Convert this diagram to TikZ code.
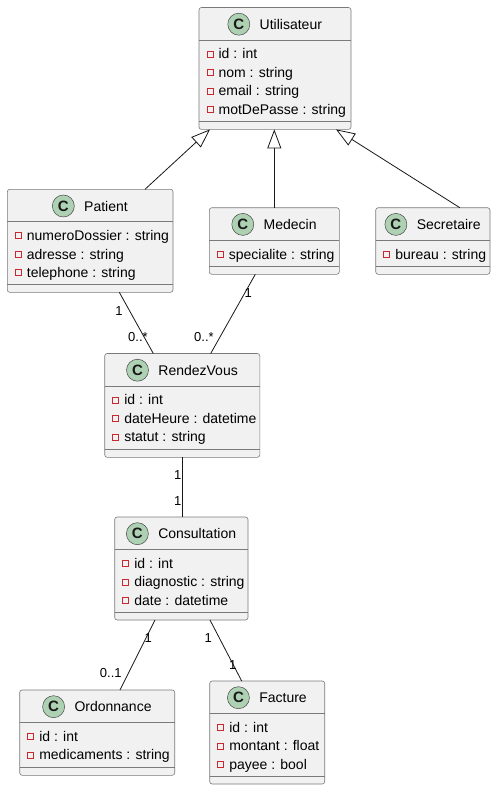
\documentclass[tikz,border=0pt]{standalone}
\usepackage{fontspec}
\setmainfont{Liberation Sans}
\usetikzlibrary{arrows.meta}

\definecolor{boxfill}{HTML}{F1F1F1}
\definecolor{ink}{HTML}{181818}
\definecolor{frame}{HTML}{7A7A7A}
\definecolor{spotfill}{HTML}{ADD1B2}
\definecolor{privred}{HTML}{C82930}

\tikzset{
  classbox/.style={rectangle, draw=frame, fill=boxfill, line width=0.6pt,
    rounded corners=2.5pt, inner sep=0pt, outer sep=0pt},
  sepline/.style={draw=frame, line width=0.6pt},
  titletext/.style={inner sep=0pt, font=\fontsize{14}{16}\selectfont, anchor=base},
  spot/.style={circle, draw=ink!80, line width=0.5pt, fill=spotfill, minimum size=22pt,
    inner sep=0pt, font=\fontsize{15}{16}\selectfont\bfseries, text=ink},
  rowtext/.style={inner sep=0pt, font=\fontsize{14}{16}\selectfont, anchor=base west},
  visib/.style={draw=privred, line width=0.7pt},
  assoc/.style={draw=ink, line width=0.8pt},
  inherit/.style={draw=ink, line width=0.8pt, -{Triangle[open, length=19pt, width=14pt]}},
  mult/.style={inner sep=0pt, font=\fontsize{13}{15}\selectfont},
}

% \umlclass{name}{left}{top}{right}{bottom}{title}{attributes}
\newcommand\umlclass[7]{%
  \node[classbox, anchor=north west, minimum width={#4pt-#2pt},
        minimum height={#5pt-#3pt}] (#1) at (#2,#3) {};
  \draw[sepline] ([yshift=-32.4pt]#1.north west) -- ([yshift=-32.4pt]#1.north east);
  \draw[sepline] ([yshift=8pt]#1.south west) -- ([yshift=8pt]#1.south east);
  \node[titletext] (#1-name) at ([xshift=15.85pt, yshift=-21.7pt]#1.north) {#6};
  \node[spot] (#1-spot) at ([xshift=-20.7pt, yshift=5pt]#1-name.base west) {C};
  \foreach \txt [count=\i] in {#7} {
    \pgfmathsetmacro\rowc{46.4+(\i-1)*18.5}
    \pgfmathsetmacro\sqy{-\rowc+3}
    \pgfmathsetmacro\byl{-\rowc-5}
    \draw[visib] ([xshift=8pt, yshift=\sqy pt]#1.north west) rectangle ++(6pt,-6pt);
    \node[rowtext] at ([xshift=19.4pt, yshift=\byl pt]#1.north west) {\txt};
  }
}

\begin{document}
\begin{tikzpicture}[x=1pt, y=-1pt]
  \useasboundingbox[fill=white] (0,0) rectangle (496,790);

  % classes
  \umlclass{uti}{199}{7.5}{351}{129.4}{Utilisateur}{id : int, nom : string, email : string, motDePasse : string}
  \umlclass{pat}{7.3}{189.3}{173}{292.3}{Patient}{numeroDossier : string, adresse : string, telephone : string}
  \umlclass{med}{209.3}{207.7}{339.3}{274.3}{Medecin}{specialite : string}
  \umlclass{sec}{375.7}{207.7}{490}{274.3}{Secretaire}{bureau : string}
  \umlclass{rdv}{104.7}{353.5}{259.8}{457.3}{RendezVous}{id : int, dateHeure : datetime, statut : string}
  \umlclass{con}{114.7}{517}{248}{620}{Consultation}{id : int, diagnostic : string, date : datetime}
  \umlclass{ord}{19.7}{690}{174.7}{775.3}{Ordonnance}{id : int, medicaments : string}
  \umlclass{fac}{209.7}{681}{324.7}{784}{Facture}{id : int, montant : float, payee : bool}

  % generalisation
  \draw[inherit] ([xshift=54.85pt]pat.north) -- ([xshift=-65pt]uti.south);
  \draw[inherit] (med.north) -- (med.north |- uti.south);
  \draw[inherit] ([xshift=27pt]sec.north) -- ([xshift=61pt]uti.south);

  % associations
  \draw[assoc] ([xshift=29.15pt]pat.south) -- ([xshift=-28.95pt]rdv.north);
  \draw[assoc] ([xshift=-19pt]med.south) -- ([xshift=28.45pt]rdv.north);
  \draw[assoc] (rdv.south) -- (rdv.south |- con.north);
  \draw[assoc] ([xshift=-26.35pt]con.south) -- ([xshift=22.8pt]ord.north);
  \draw[assoc] ([xshift=28.65pt]con.south) -- ([xshift=-25.5pt]fac.north);

  % multiplicities
  \node[mult] (m1) at (119,310.7) {1};
  \node[mult] (m2) at (138,337.3) {0..*};
  \node[mult] (m3) at (248.3,292.7) {1};
  \node[mult] (m4) at (204,337.3) {0..*};
  \node[mult] (m5) at (177.7,475) {1};
  \node[mult] (m6) at (177.7,500.7) {1};
  \node[mult] (m7) at (148.3,638.3) {1};
  \node[mult] (m8) at (110.8,673.3) {0..1};
  \node[mult] (m9) at (208.3,638.3) {1};
  \node[mult] (m10) at (232.7,665) {1};
\end{tikzpicture}
\end{document}
